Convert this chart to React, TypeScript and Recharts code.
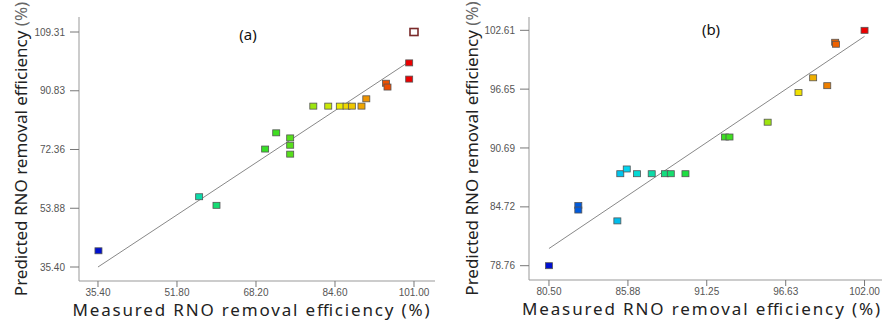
import { ScatterChart, Scatter, XAxis, YAxis, ReferenceLine } from "recharts";

// panel (a)
const measuredA = [35.5, 56.4, 60.0, 70.1, 72.4, 75.3, 75.3, 75.3, 80.1, 83.2, 85.6, 87.0, 88.1, 90.1, 91.1, 95.2, 95.5, 100.0, 100.0];
const predictedA = [40.5, 57.5, 54.8, 72.5, 77.6, 76.0, 73.7, 70.9, 86.0, 86.0, 86.0, 86.0, 86.0, 86.0, 88.3, 93.2, 92.0, 99.6, 94.5];
const outlierA = { measured: 101.0, predicted: 109.31 };
const ticksXA = [35.4, 51.8, 68.2, 84.6, 101.0];
const ticksYA = [35.4, 53.88, 72.36, 90.83, 109.31];
const fitA = [35.4, 99.5];

// panel (b)
const measuredB = [80.5, 82.5, 82.5, 85.16, 85.36, 85.8, 86.5, 87.5, 88.4, 88.8, 89.8, 92.5, 92.8, 95.4, 97.5, 98.5, 99.46, 100.0, 100.05, 102.0];
const predictedB = [78.76, 84.85, 84.4, 83.3, 88.08, 88.56, 88.08, 88.08, 88.08, 88.08, 88.08, 91.8, 91.8, 93.3, 96.3, 97.8, 97.0, 101.4, 101.2, 102.61];
const ticksXB = [80.5, 85.88, 91.25, 96.63, 102.0];
const ticksYB = [78.76, 84.72, 90.69, 96.65, 102.61];
const fitB = [80.5, 102.0];

const STOPS: [number, number[]][] = [
  [0, [0, 16, 208]],
  [0.25, [0, 216, 240]],
  [0.45, [32, 224, 48]],
  [0.6, [70, 222, 30]],
  [0.78, [240, 236, 0]],
  [1, [236, 0, 0]],
];

function colorFor(t: number) {
  const v = Math.max(0, Math.min(1, t));
  for (let i = 1; i < STOPS.length; i++) {
    const [t1, c1] = STOPS[i];
    const [t0, c0] = STOPS[i - 1];
    if (v <= t1) {
      const f = (v - t0) / (t1 - t0);
      const c = c0.map((a, k) => Math.round(a + (c1[k] - a) * f));
      return `rgb(${c[0]},${c[1]},${c[2]})`;
    }
  }
  return "rgb(236,0,0)";
}

function buildRows(xs: number[], ys: number[]) {
  const lo = Math.min(...xs);
  const hi = Math.max(...xs);
  return xs.map((x, i) => ({ x, y: ys[i], fill: colorFor((x - lo) / (hi - lo)) }));
}

const FONT = "'Noto Sans', 'Open Sans', sans-serif";
const TICK = { fontSize: 10, fill: "#555", fontFamily: "'Liberation Sans', Arial, sans-serif" };

function Square(props: any) {
  const { cx, cy, payload } = props;
  return <rect x={cx - 3.5} y={cy - 3} width={7} height={6} fill={payload.fill} stroke="#555" strokeWidth={0.8} />;
}

function Hollow(props: any) {
  const { cx, cy } = props;
  return <rect x={cx - 4} y={cy - 3.5} width={8} height={7} fill="#fff" stroke="#7a2a2a" strokeWidth={1.6} />;
}

function YTitle({ viewBox, dx }: any) {
  const cy = viewBox.y + viewBox.height / 2;
  const x = dx;
  return (
    <text x={x} y={cy} transform={`rotate(-90 ${x} ${cy})`} textAnchor="middle" dominantBaseline="central"
      fontFamily={FONT} fontSize={17} fill="#222">
      Predicted RNO removal efficiency <tspan fill="#666">(%)</tspan>
    </text>
  );
}

function XTitle({ viewBox, cx, len }: any) {
  const y = viewBox.y + 28;
  return (
    <text x={cx} y={y} textAnchor="middle" dominantBaseline="central" fontFamily={FONT} fontSize={17} fill="#222"
      textLength={len} lengthAdjust="spacing">
      Measured  RNO  removal  efficiency  (%)
    </text>
  );
}

type PanelProps = {
  left: number;
  width: number;
  rows: { x: number; y: number; fill: string }[];
  xDomain: [number, number];
  yDomain: [number, number];
  xTicks: number[];
  yTicks: number[];
  fit: number[];
  yAxisWidth: number;
  xAxisHeight: number;
  marginRight: number;
  yTitleX: number;
  xTitleX: number;
  xTitleLen: number;
  title: string;
  titleX: number;
  titleY: number;
  outlier?: { x: number; y: number }[];
};

function Panel(p: PanelProps) {
  return (
    <div style={{ position: "absolute", left: p.left, top: 0, width: p.width, height: 321 }}>
      <ScatterChart width={p.width} height={321} margin={{ top: 17, right: p.marginRight, bottom: 0, left: 0 }}>
        <XAxis type="number" dataKey="x" domain={p.xDomain} ticks={p.xTicks} allowDataOverflow
          tickFormatter={(v: number) => v.toFixed(2)} tick={TICK} tickSize={6} height={p.xAxisHeight}
          stroke="#999" tickLine={{ stroke: "#777" }}
          label={{ content: (lp: any) => <XTitle {...lp} cx={p.xTitleX} len={p.xTitleLen} /> }} />
        <YAxis type="number" dataKey="y" domain={p.yDomain} ticks={p.yTicks} allowDataOverflow
          tickFormatter={(v: number) => v.toFixed(2)} tick={TICK} tickSize={9} tickMargin={5} width={p.yAxisWidth}
          stroke="#999" tickLine={{ stroke: "#777" }}
          label={{ content: (lp: any) => <YTitle {...lp} dx={p.yTitleX} /> }} />
        <XAxis xAxisId="top" orientation="top" type="number" domain={p.xDomain} height={0} tick={false}
          tickLine={false} stroke="#999" />
        <YAxis yAxisId="right" orientation="right" type="number" domain={p.yDomain} width={0} tick={false}
          tickLine={false} stroke="#999" />
        <ReferenceLine segment={[{ x: p.fit[0], y: p.fit[0] }, { x: p.fit[1], y: p.fit[1] }]} stroke="#888" strokeWidth={1} />
        <Scatter data={p.rows} shape={Square} isAnimationActive={false} />
        {p.outlier && <Scatter data={p.outlier} shape={Hollow} isAnimationActive={false} />}
      </ScatterChart>
      <div style={{ position: "absolute", left: p.titleX - 20, top: p.titleY - 10, width: 40, textAlign: "center",
        fontFamily: FONT, fontSize: 15, lineHeight: "20px", color: "#111" }}>
        {p.title}
      </div>
    </div>
  );
}

export default function App() {
  const rowsA = buildRows(measuredA, predictedA);
  const rowsB = buildRows(measuredB, predictedB);
  return (
    <div style={{ position: "absolute", left: 0, top: 0, width: 889, height: 321, background: "#fff", overflow: "hidden" }}>
      <Panel left={0} width={445} rows={rowsA} xDomain={[31.46, 105.36]} yDomain={[31.0, 114.03]}
        xTicks={ticksXA} yTicks={ticksYA} fit={fitA} yAxisWidth={79} xAxisHeight={40} marginRight={10}
        yTitleX={20} xTitleX={251} xTitleLen={357} title="(a)" titleX={248} titleY={34}
        outlier={[{ x: outlierA.measured, y: outlierA.predicted }]} />
      <Panel left={445} width={444} rows={rowsB} xDomain={[79.14, 103.19]} yDomain={[77.31, 103.96]}
        xTicks={ticksXB} yTicks={ticksYB} fit={fitB} yAxisWidth={84} xAxisHeight={41} marginRight={7}
        yTitleX={26} xTitleX={256} xTitleLen={358} title="(b)" titleX={266} titleY={29} />
    </div>
  );
}
